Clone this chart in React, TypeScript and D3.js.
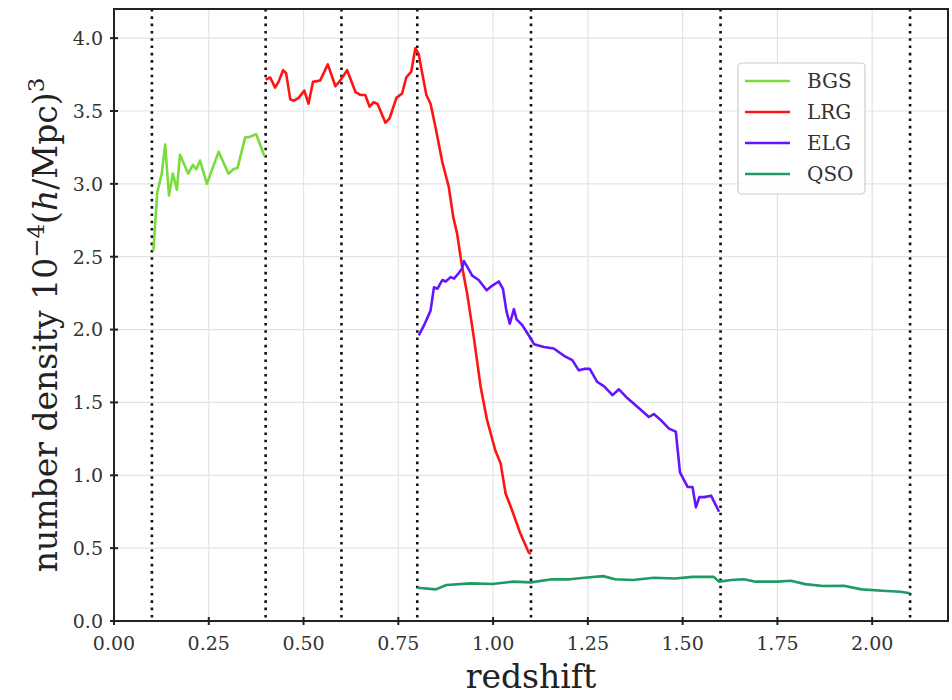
import React from 'react'
import * as d3 from 'd3'

// redshift / number density
const bgsZ = [0.104, 0.114, 0.126, 0.135, 0.145, 0.155, 0.166, 0.174, 0.196, 0.208, 0.217, 0.227, 0.245, 0.276, 0.302, 0.315, 0.326, 0.346, 0.355, 0.375, 0.397]
const bgsN = [2.54, 2.94, 3.07, 3.27, 2.92, 3.07, 2.96, 3.2, 3.07, 3.13, 3.1, 3.16, 3.0, 3.22, 3.07, 3.1, 3.11, 3.32, 3.32, 3.34, 3.19]

const lrgZ = [0.4, 0.412, 0.425, 0.434, 0.446, 0.454, 0.465, 0.474, 0.487, 0.502, 0.513, 0.525, 0.544, 0.564, 0.584, 0.597, 0.615, 0.637, 0.65, 0.663, 0.674, 0.685, 0.695, 0.716, 0.727, 0.745, 0.76, 0.771, 0.784, 0.795, 0.804, 0.81, 0.824, 0.835, 0.848, 0.866, 0.883, 0.895, 0.905, 0.917, 0.932, 0.949, 0.967, 0.984, 1.006, 1.02, 1.033, 1.05, 1.072, 1.094, 1.1]
const lrgN = [3.715, 3.73, 3.66, 3.7, 3.78, 3.76, 3.58, 3.57, 3.59, 3.64, 3.55, 3.7, 3.71, 3.82, 3.67, 3.71, 3.78, 3.63, 3.61, 3.61, 3.53, 3.56, 3.55, 3.42, 3.45, 3.59, 3.62, 3.73, 3.77, 3.93, 3.89, 3.8, 3.61, 3.55, 3.39, 3.15, 2.98, 2.77, 2.66, 2.45, 2.24, 1.95, 1.61, 1.38, 1.17, 1.08, 0.875, 0.76, 0.6, 0.47, 0.46]

const elgZ = [0.804, 0.818, 0.835, 0.844, 0.853, 0.866, 0.875, 0.888, 0.897, 0.91, 0.918, 0.923, 0.932, 0.945, 0.962, 0.983, 0.997, 1.015, 1.026, 1.035, 1.044, 1.055, 1.062, 1.077, 1.099, 1.108, 1.134, 1.16, 1.187, 1.209, 1.226, 1.24, 1.255, 1.275, 1.293, 1.315, 1.332, 1.354, 1.385, 1.411, 1.424, 1.442, 1.464, 1.482, 1.493, 1.513, 1.526, 1.535, 1.544, 1.557, 1.575, 1.596]
const elgN = [1.96, 2.03, 2.13, 2.29, 2.28, 2.34, 2.33, 2.36, 2.35, 2.39, 2.42, 2.47, 2.43, 2.37, 2.34, 2.27, 2.3, 2.33, 2.28, 2.13, 2.04, 2.14, 2.07, 2.03, 1.94, 1.9, 1.88, 1.87, 1.82, 1.79, 1.72, 1.73, 1.73, 1.64, 1.61, 1.55, 1.59, 1.53, 1.46, 1.4, 1.42, 1.38, 1.32, 1.3, 1.02, 0.92, 0.92, 0.78, 0.85, 0.85, 0.86, 0.75]

const qsoZ = [0.8, 0.849, 0.877, 0.942, 0.998, 1.053, 1.1, 1.155, 1.202, 1.248, 1.29, 1.322, 1.369, 1.424, 1.48, 1.526, 1.582, 1.596, 1.628, 1.661, 1.693, 1.749, 1.786, 1.823, 1.87, 1.925, 1.972, 2.027, 2.074, 2.1]
const qsoN = [0.228, 0.217, 0.247, 0.258, 0.254, 0.27, 0.265, 0.286, 0.286, 0.299, 0.308, 0.286, 0.281, 0.297, 0.292, 0.303, 0.303, 0.27, 0.281, 0.286, 0.27, 0.27, 0.276, 0.253, 0.24, 0.242, 0.217, 0.208, 0.201, 0.19]

const names = ['BGS', 'LRG', 'ELG', 'QSO']
const colors = ['#78dc3c', '#ff1414', '#6414ff', '#1e9a64']
const bins = [0.1, 0.4, 0.6, 0.8, 1.1, 1.6, 2.1]
const xTicks = [0, 0.25, 0.5, 0.75, 1.0, 1.25, 1.5, 1.75, 2.0]
const yTicks = [0, 0.5, 1.0, 1.5, 2.0, 2.5, 3.0, 3.5, 4.0]

const W = 952
const H = 700
const left = 114
const right = 948
const top = 9
const bottom = 621
const serif = '"DejaVu Serif", serif'

export default function App () {
  const x = d3.scaleLinear().domain([0, 2.2]).range([left, right])
  const y = d3.scaleLinear().domain([0, 4.2]).range([bottom, top])
  const line = d3.line<[number, number]>().x(d => x(d[0])).y(d => y(d[1]))

  const series = [
    [bgsZ, bgsN],
    [lrgZ, lrgN],
    [elgZ, elgN],
    [qsoZ, qsoN]
  ].map(([zs, ns]) => zs.map((z, i) => [z, ns[i]] as [number, number]))

  return (
    <svg width={W} height={H} style={{position: 'absolute', left: 0, top: 0, background: '#fff'}}>
      {/* grid */}
      {xTicks.map(t => (
        <line key={'gx' + t} x1={x(t)} x2={x(t)} y1={top} y2={bottom} stroke='#e3e3e3' strokeWidth={1.2} />
      ))}
      {yTicks.map(t => (
        <line key={'gy' + t} x1={left} x2={right} y1={y(t)} y2={y(t)} stroke='#e3e3e3' strokeWidth={1.2} />
      ))}

      {/* redshift bin edges */}
      {bins.map(b => (
        <line key={'b' + b} x1={x(b)} x2={x(b)} y1={top} y2={bottom} stroke='#111' strokeWidth={2.6} strokeDasharray='2.6 4.7' />
      ))}

      {series.map((pts, i) => (
        <path key={names[i]} d={line(pts) || ''} fill='none' stroke={colors[i]} strokeWidth={2.6} strokeLinejoin='round' />
      ))}

      {/* frame */}
      <rect x={left} y={top} width={right - left} height={bottom - top} fill='none' stroke='#222' strokeWidth={2} />

      {/* ticks */}
      {xTicks.map(t => (
        <g key={'tx' + t}>
          <line x1={x(t)} x2={x(t)} y1={bottom - 4} y2={bottom + 4} stroke='#222' strokeWidth={2} />
          <text x={x(t)} y={650} textAnchor='middle' fontFamily={serif} fontSize={19} fill='#333'>{t.toFixed(2)}</text>
        </g>
      ))}
      {yTicks.map(t => (
        <g key={'ty' + t}>
          <line x1={left - 4} x2={left + 4} y1={y(t)} y2={y(t)} stroke='#222' strokeWidth={2} />
          <text x={103} y={y(t)} dy='0.36em' textAnchor='end' fontFamily={serif} fontSize={19} fill='#333'>{t.toFixed(1)}</text>
        </g>
      ))}

      {/* axis labels */}
      <text x={(left + right) / 2} y={688} textAnchor='middle' fontFamily={serif} fontSize={33} fill='#222'>redshift</text>
      <text transform={`translate(57,${325}) rotate(-90)`} textAnchor='middle' fontFamily={serif} fontSize={33} fill='#222'>
        number density 10
        <tspan fontSize={23} dy={-13}>−4</tspan>
        <tspan dy={13}>(</tspan>
        <tspan fontStyle='italic'>h</tspan>
        /Mpc)
        <tspan fontSize={23} dy={-13}>3</tspan>
      </text>

      {/* legend */}
      <rect x={738} y={63} width={127} height={131} rx={4} fill='#fff' fillOpacity={0.85} stroke='#cccccc' strokeWidth={1.2} />
      {names.map((n, i) => (
        <g key={'l' + n}>
          <line x1={745} x2={790} y1={81 + i * 31} y2={81 + i * 31} stroke={colors[i]} strokeWidth={2.6} />
          <text x={807} y={81 + i * 31} dy='0.36em' fontFamily={serif} fontSize={20} fill='#333'>{n}</text>
        </g>
      ))}
    </svg>
  )
}
